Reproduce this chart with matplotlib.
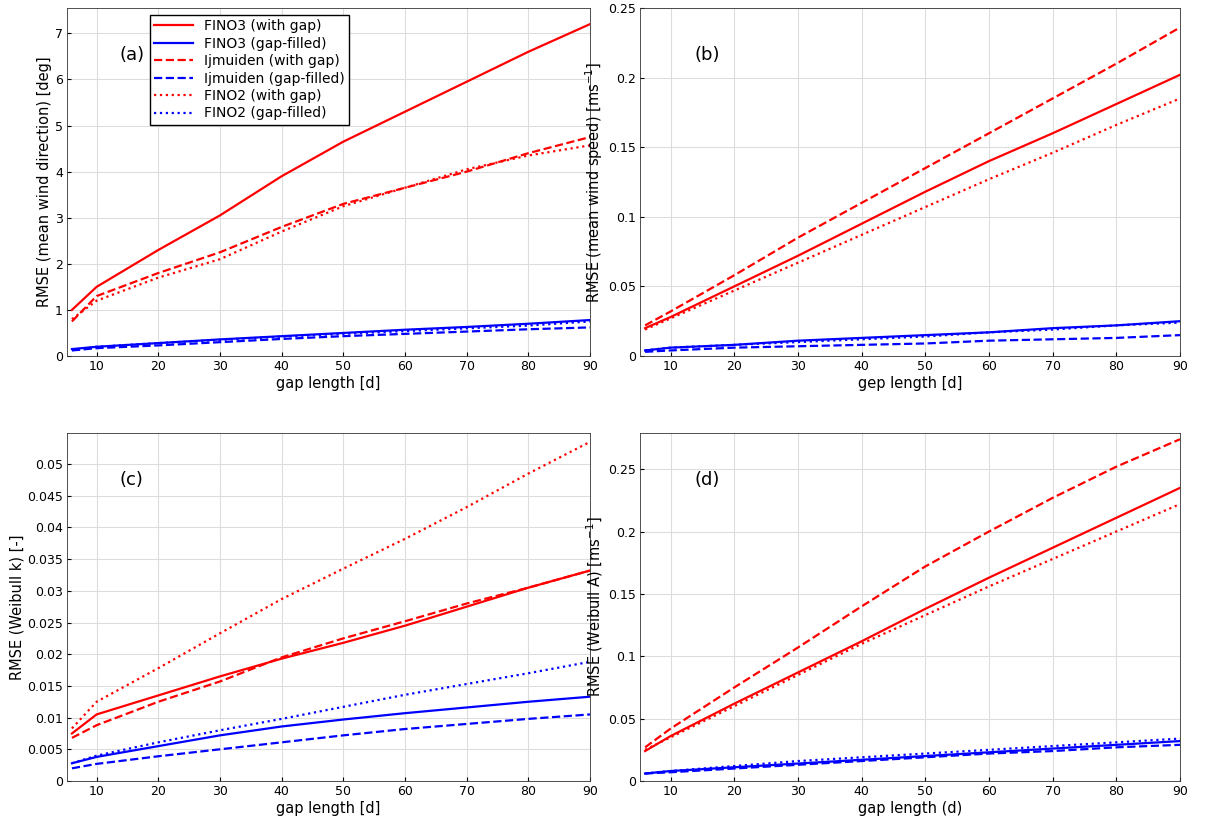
import matplotlib
matplotlib.use('Agg')
import matplotlib.pyplot as plt
from matplotlib.ticker import FuncFormatter, MultipleLocator

gap = [6, 10, 20, 30, 40, 50, 60, 70, 80, 90]

# (a) mean wind direction [deg]
a_fino3_gap = [1.0, 1.5, 2.3, 3.05, 3.9, 4.65, 5.3, 5.95, 6.6, 7.2]
a_fino3_fill = [0.15, 0.2, 0.28, 0.36, 0.43, 0.5, 0.57, 0.63, 0.7, 0.78]
a_ijm_gap = [0.75, 1.3, 1.8, 2.25, 2.8, 3.3, 3.65, 4.0, 4.4, 4.75]
a_ijm_fill = [0.12, 0.17, 0.23, 0.3, 0.37, 0.43, 0.48, 0.53, 0.58, 0.62]
a_fino2_gap = [0.8, 1.2, 1.7, 2.1, 2.7, 3.25, 3.65, 4.05, 4.35, 4.57]
a_fino2_fill = [0.13, 0.2, 0.28, 0.35, 0.42, 0.48, 0.54, 0.6, 0.66, 0.75]

# (b) mean wind speed [m/s]
b_fino3_gap = [0.02, 0.028, 0.05, 0.072, 0.095, 0.118, 0.14, 0.16, 0.181, 0.202]
b_fino3_fill = [0.004, 0.006, 0.008, 0.011, 0.013, 0.015, 0.017, 0.02, 0.022, 0.025]
b_ijm_gap = [0.022, 0.032, 0.058, 0.085, 0.11, 0.135, 0.16, 0.185, 0.21, 0.236]
b_ijm_fill = [0.003, 0.004, 0.006, 0.007, 0.008, 0.009, 0.011, 0.012, 0.013, 0.015]
b_fino2_gap = [0.019, 0.027, 0.047, 0.067, 0.087, 0.107, 0.127, 0.146, 0.166, 0.185]
b_fino2_fill = [0.004, 0.006, 0.008, 0.01, 0.012, 0.014, 0.017, 0.019, 0.022, 0.024]

# (c) Weibull k
c_fino3_gap = [0.0075, 0.0105, 0.0135, 0.0165, 0.0193, 0.0218, 0.0245, 0.0275, 0.0305, 0.0332]
c_fino3_fill = [0.0028, 0.0038, 0.0055, 0.0072, 0.0086, 0.0097, 0.0107, 0.0116, 0.0125, 0.0133]
c_ijm_gap = [0.0068, 0.0088, 0.0125, 0.0157, 0.0195, 0.0225, 0.0252, 0.028, 0.0305, 0.0332]
c_ijm_fill = [0.002, 0.0027, 0.0039, 0.005, 0.0061, 0.0072, 0.0082, 0.009, 0.0098, 0.0105]
c_fino2_gap = [0.0083, 0.0125, 0.0178, 0.0233, 0.0287, 0.0335, 0.0382, 0.0432, 0.0485, 0.0535]
c_fino2_fill = [0.0028, 0.004, 0.0061, 0.008, 0.0098, 0.0117, 0.0136, 0.0153, 0.017, 0.0188]

# (d) Weibull A
d_fino3_gap = [0.024, 0.036, 0.062, 0.087, 0.112, 0.138, 0.163, 0.187, 0.211, 0.235]
d_fino3_fill = [0.006, 0.008, 0.011, 0.014, 0.017, 0.020, 0.023, 0.026, 0.029, 0.032]
d_ijm_gap = [0.027, 0.042, 0.075, 0.107, 0.14, 0.172, 0.2, 0.227, 0.252, 0.274]
d_ijm_fill = [0.006, 0.007, 0.01, 0.013, 0.016, 0.019, 0.022, 0.024, 0.027, 0.029]
d_fino2_gap = [0.025, 0.035, 0.06, 0.085, 0.11, 0.133, 0.156, 0.178, 0.2, 0.222]
d_fino2_fill = [0.006, 0.008, 0.012, 0.016, 0.019, 0.022, 0.025, 0.028, 0.031, 0.034]

labels = ['FINO3 (with gap)', 'FINO3 (gap-filled)', 'Ijmuiden (with gap)',
          'Ijmuiden (gap-filled)', 'FINO2 (with gap)', 'FINO2 (gap-filled)']
styles = [('red', '-'), ('blue', '-'), ('red', '--'), ('blue', '--'), ('red', ':'), ('blue', ':')]

panels = [
    ([a_fino3_gap, a_fino3_fill, a_ijm_gap, a_ijm_fill, a_fino2_gap, a_fino2_fill],
     '(a)', 'RMSE (mean wind direction) [deg]', 'gap length [d]', 7.55, 1),
    ([b_fino3_gap, b_fino3_fill, b_ijm_gap, b_ijm_fill, b_fino2_gap, b_fino2_fill],
     '(b)', 'RMSE (mean wind speed) [ms$^{-1}$]', 'gep length [d]', 0.25, 0.05),
    ([c_fino3_gap, c_fino3_fill, c_ijm_gap, c_ijm_fill, c_fino2_gap, c_fino2_fill],
     '(c)', 'RMSE (Weibull k) [-]', 'gap length [d]', 0.0549, 0.005),
    ([d_fino3_gap, d_fino3_fill, d_ijm_gap, d_ijm_fill, d_fino2_gap, d_fino2_fill],
     '(d)', 'RMSE (Weibull A) [ms$^{-1}$]', 'gap length (d)', 0.279, 0.05),
]

fig = plt.figure(figsize=(12.06, 8.18), dpi=100)
rects = [(67, 8), (640, 8), (67, 433), (640, 433)]
W, H = 1206, 818
for (series, tag, ylab, xlab, ytop, ystep), (x0, y0) in zip(panels, rects):
    w = 523 if x0 == 67 else 540
    ax = fig.add_axes([x0 / W, 1 - (y0 + 348) / H, w / W, 348 / H])
    for s, (c, ls), lab in zip(series, styles, labels):
        ax.plot(gap, s, color=c, linestyle=ls, lw=1.6, label=lab)
    ax.set_xlim(5.2, 90)
    ax.set_ylim(0, ytop)
    ax.xaxis.set_major_locator(MultipleLocator(10))
    ax.yaxis.set_major_locator(MultipleLocator(ystep))
    ax.yaxis.set_major_formatter(FuncFormatter(lambda v, p: '%g' % round(v, 6)))
    ax.grid(True, color='#dddddd', lw=0.8)
    ax.tick_params(labelsize=9, direction='in', length=3, pad=3)
    for sp in ax.spines.values():
        sp.set_color('#333333')
        sp.set_linewidth(0.6)
    ax.set_xlabel(xlab, fontsize=10.5, labelpad=2)
    ax.set_ylabel(ylab, fontsize=10.5, labelpad=2)
    ax.text(0.1, 0.85, tag, transform=ax.transAxes, fontsize=13)
    if tag == '(a)':
        ax.legend(loc='upper left', bbox_to_anchor=(0.145, 1.0), fontsize=10,
                  fancybox=False, edgecolor='black', framealpha=1,
                  handlelength=2.8, borderpad=0.3, labelspacing=0.25)

fig.savefig('out.png', dpi=100)
